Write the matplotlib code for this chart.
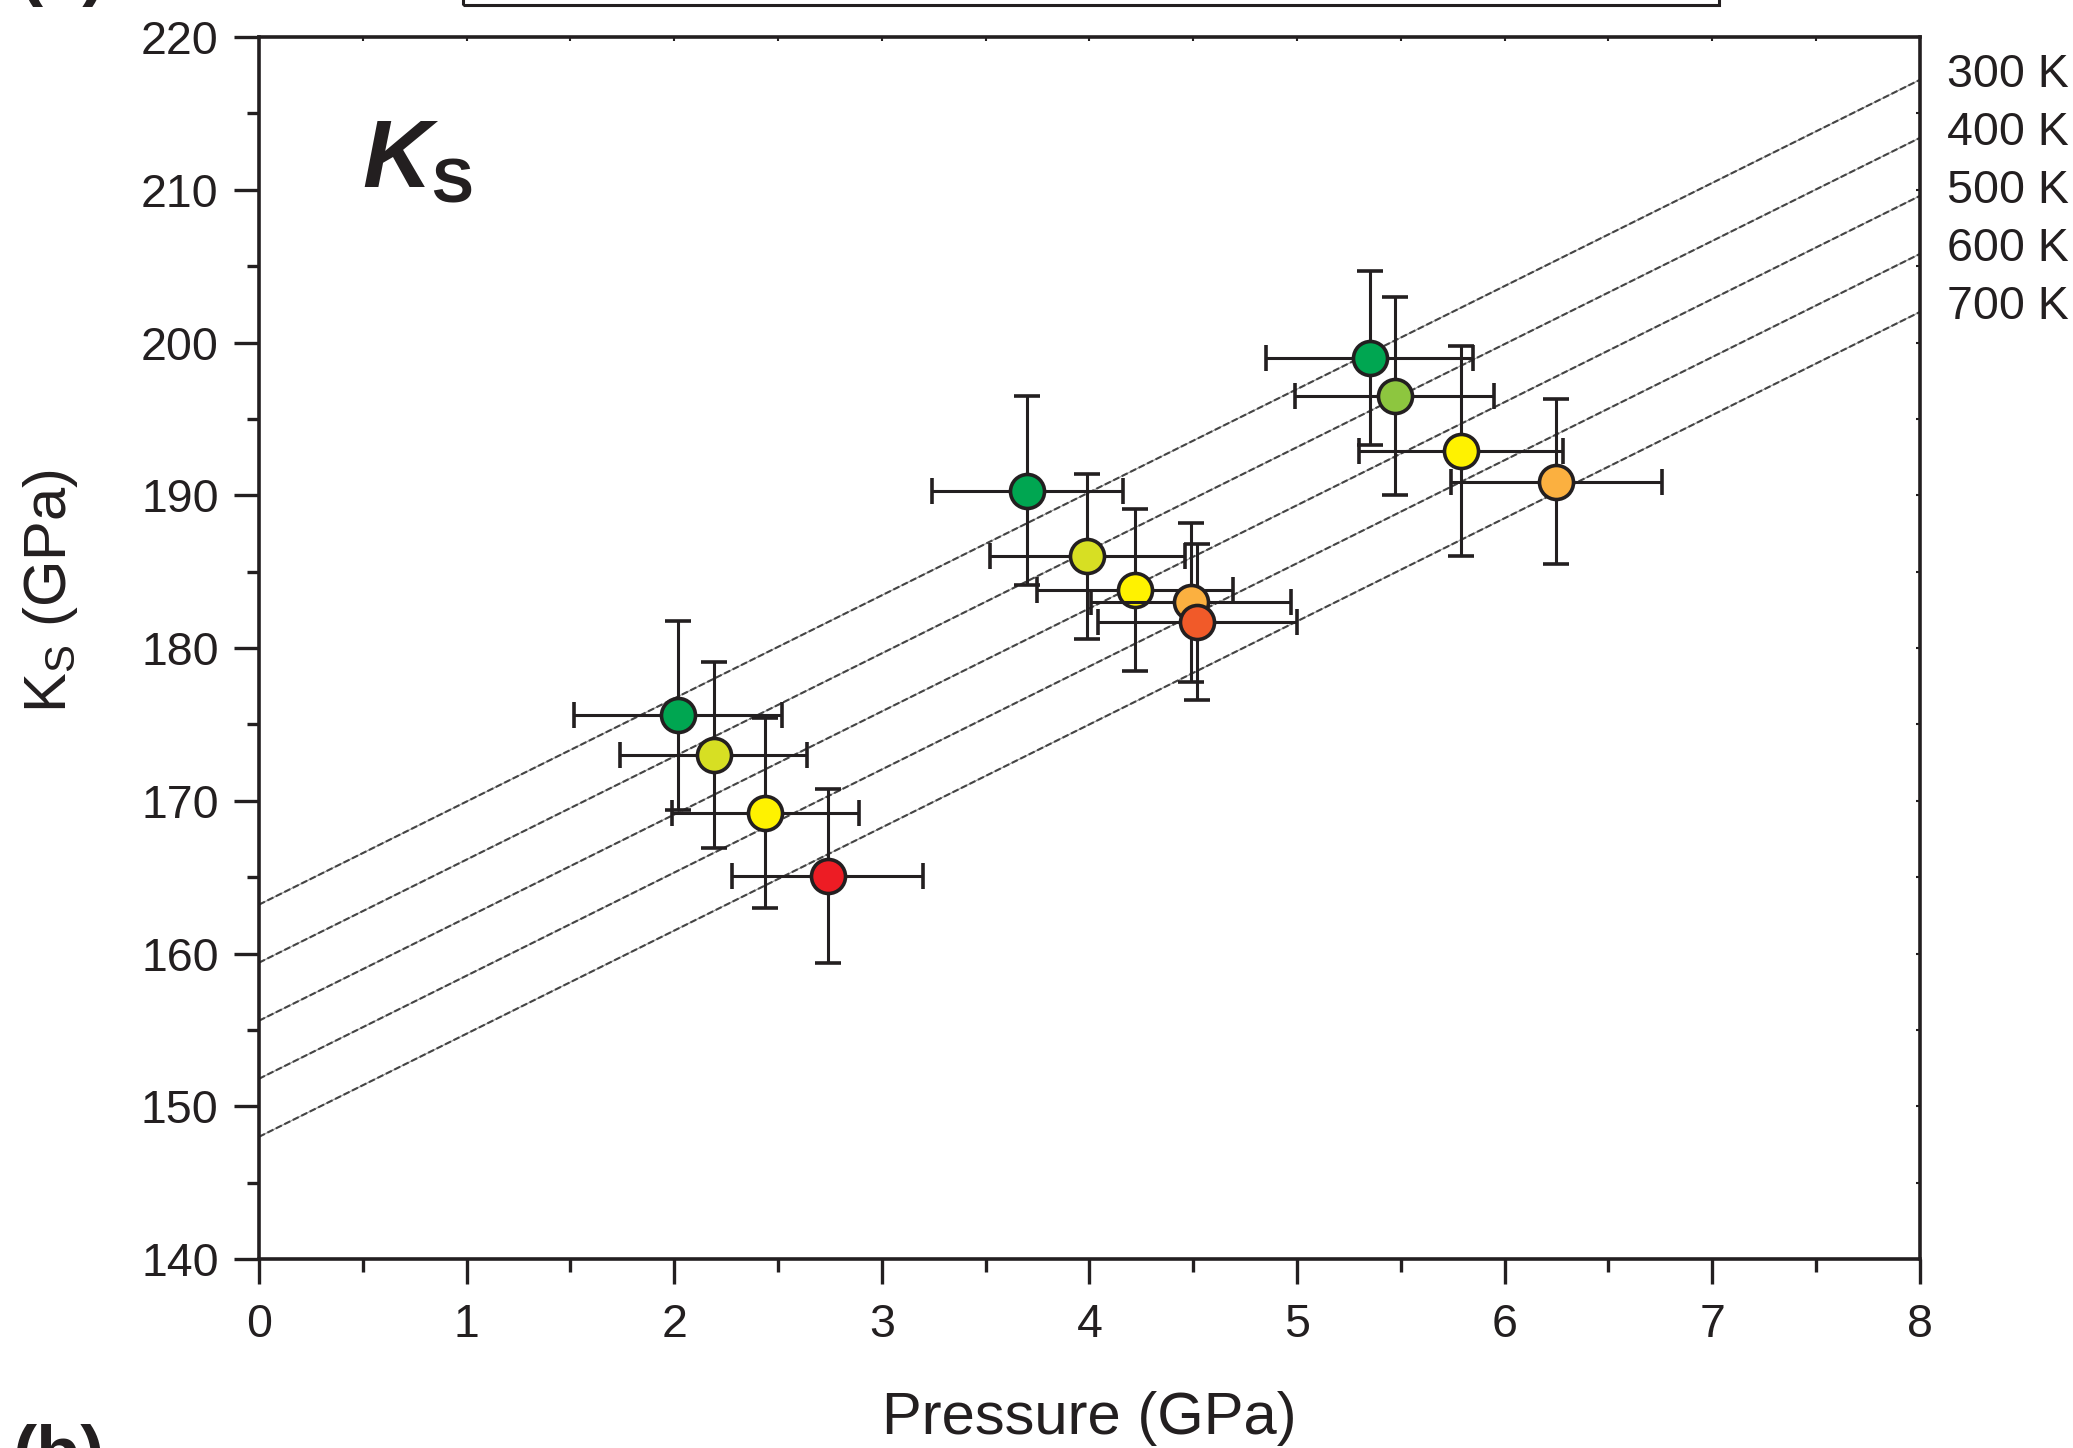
import matplotlib
matplotlib.use("Agg")
from matplotlib import pyplot as plt
from matplotlib.patches import Rectangle
from matplotlib.ticker import MultipleLocator

# measured points: pressure (GPa), adiabatic bulk modulus Ks (GPa)
pressure = [2.02, 2.19, 2.44, 2.74, 3.70, 3.99, 4.22, 4.49, 4.52, 5.35, 5.47, 5.79, 6.25]
ks = [175.6, 173.0, 169.2, 165.1, 190.3, 186.0, 183.8, 183.0, 181.7, 199.0, 196.5, 192.9, 190.9]
pressure_err = [0.50, 0.45, 0.45, 0.46, 0.46, 0.47, 0.47, 0.48, 0.48, 0.50, 0.48, 0.49, 0.51]
ks_err = [6.2, 6.1, 6.2, 5.7, 6.2, 5.4, 5.3, 5.2, 5.1, 5.7, 6.5, 6.9, 5.4]
point_colors = ["#00a651", "#d7df23", "#fff200", "#ed1c24",
                "#00a651", "#d7df23", "#fff200", "#fbb040", "#f15a29",
                "#00a651", "#8dc63f", "#fff200", "#fbb040"]

# isotherms: Ks at P = 0 and at P = 8 GPa
iso_labels = ["300 K", "400 K", "500 K", "600 K", "700 K"]
iso_p = [0, 8]
iso_ks_start = [163.2, 159.4, 155.6, 151.8, 148.0]
iso_ks_end = [217.2, 213.4, 209.6, 205.8, 202.0]

INK = "#231f20"

plt.rcParams.update({
    "font.family": ["Liberation Sans", "DejaVu Sans"],
    "mathtext.default": "regular",
    "lines.scale_dashes": False,
})

fig = plt.figure(figsize=(20.73, 14.48), dpi=100)
ax = fig.add_axes([0.1249, 0.1305, 0.8012, 0.8439])

# dashed isotherms (light line with darker dashes on top)
for ks0, ks1, lab in zip(iso_ks_start, iso_ks_end, iso_labels):
    ax.plot(iso_p, [ks0, ks1], color="#9a9a9a", lw=0.8, zorder=1)
    ax.plot(iso_p, [ks0, ks1], color="#444444", lw=1.5, dashes=(4.8, 2.0), zorder=1.1)
    ax.text(8.13, ks1 + 0.3, lab, fontsize=33.5, color=INK,
            ha="left", va="center", clip_on=False)

# data points with error bars
for i, (p, k, pe, ke, c) in enumerate(zip(pressure, ks, pressure_err, ks_err, point_colors)):
    ax.errorbar(p, k, xerr=pe, yerr=ke, fmt="o", ms=24.5, mfc=c, mec=INK, mew=2.6,
                ecolor=INK, elinewidth=2.2, capsize=9.7, capthick=2.2,
                zorder=3 + i * 0.1)

ax.set_xlim(0, 8)
ax.set_ylim(140, 220)
ax.xaxis.set_major_locator(MultipleLocator(1))
ax.xaxis.set_minor_locator(MultipleLocator(0.5))
ax.yaxis.set_major_locator(MultipleLocator(10))
ax.yaxis.set_minor_locator(MultipleLocator(5))

for side in ax.spines.values():
    side.set_linewidth(2.6)
    side.set_color(INK)

ax.tick_params(which="major", direction="out", length=18, width=2.4, color=INK,
               labelsize=33.5, labelcolor=INK)
ax.tick_params(which="minor", direction="out", length=9, width=2.4, color=INK)
ax.tick_params(axis="x", which="major", pad=14)
ax.tick_params(axis="y", which="major", pad=11)

# tiny inner ticks on top / right
top = ax.secondary_xaxis("top")
top.xaxis.set_major_locator(MultipleLocator(0.5))
top.tick_params(direction="in", length=3, width=1.5, color=INK, labeltop=False)
top.spines["top"].set_visible(False)
right = ax.secondary_yaxis("right")
right.yaxis.set_major_locator(MultipleLocator(5))
right.tick_params(direction="in", length=3, width=1.5, color=INK, labelright=False)
right.spines["right"].set_visible(False)

ax.set_xlabel("Pressure (GPa)", fontsize=43, color=INK, labelpad=31)
ax.set_ylabel(r"K$_{S}$ (GPa)", fontsize=43, color=INK)
ax.yaxis.set_label_coords(-0.108, 0.547)

# big panel symbol
ax.text(0.5, 210.2, "K", fontsize=69, fontweight="bold", fontstyle="italic",
        color=INK, ha="left", va="baseline")
ax.text(0.83, 209.2, "S", fontsize=45, fontweight="bold",
        color=INK, ha="left", va="baseline")

# cut-off pieces of the neighbouring panels
fig.patches.append(Rectangle((463 / 2073, 1 - 5 / 1448), (1719 - 463) / 2073, 0.05,
                             transform=fig.transFigure, fill=False,
                             edgecolor=INK, lw=2.2))
fig.text(18 / 2073, 1 - 7 / 1448, "(a)", fontsize=52, fontweight="bold",
         color=INK, ha="left", va="bottom")
fig.text(12 / 2073, 1 - 1424 / 1448, "(b)", fontsize=52, fontweight="bold",
         color=INK, ha="left", va="top")

fig.savefig("out.png", dpi=100, facecolor="white")
plt.close(fig)
